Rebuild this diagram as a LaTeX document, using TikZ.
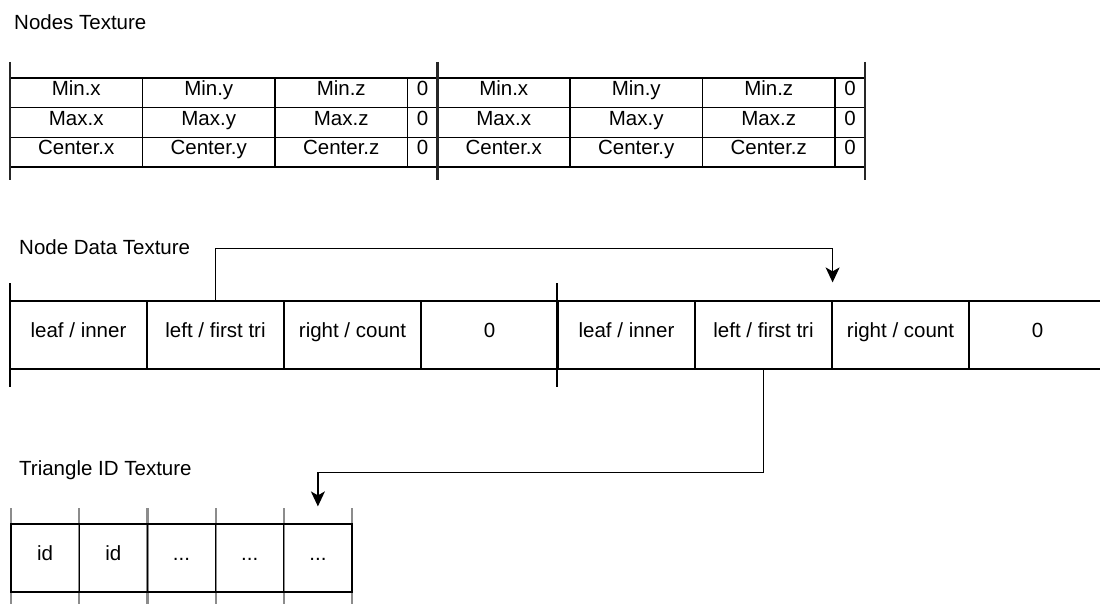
\documentclass[tikz,border=0pt]{standalone}
\usepackage{fontspec}
\setmainfont{Liberation Sans}
\usetikzlibrary{arrows.meta,calc}
\newcommand{\tridots}{...}
\begin{document}
\begin{tikzpicture}[x=1pt,y=-1pt,
 cell/.style={draw=black,line width=1.2pt,inner sep=0pt,font=\fontsize{20.5}{24}\selectfont,text height=0.72em,text depth=0.2em,anchor=center},
 title/.style={anchor=west,inner sep=0pt,font=\fontsize{20.5}{24}\selectfont},
 bar/.style={line width=2.7pt,black!85},
 tick/.style={line width=1.2pt},
 gtick/.style={line width=2.2pt,black!45},
 arr/.style={line width=1.2pt,-{Stealth[length=15pt,width=14pt,inset=4pt]}}]
\clip (0,0) rectangle (1100,604);
\fill[white] (0,0) rectangle (1100,604);

% ---------- Nodes Texture ----------
\node[title] (tn) at (14,22) {Nodes Texture};
\foreach \t/\ox in {a/10,b/437.5}{
  \foreach \r/\yc/\lx/\ly/\lz in {1/92.85/Min.x/Min.y/Min.z,2/122.5/Max.x/Max.y/Max.z,3/152.15/Center.x/Center.y/Center.z}{
    \node[cell,minimum width=132.5pt,minimum height=29.7pt] (\t x\r) at (\ox+66.25,\yc) {\lx};
    \node[cell,minimum width=132.5pt,minimum height=29.7pt] (\t y\r) at (\ox+198.75,\yc) {\ly};
    \node[cell,minimum width=132.5pt,minimum height=29.7pt] (\t z\r) at (\ox+331.25,\yc) {\lz};
    \node[cell,minimum width=30pt,minimum height=29.7pt] (\t w\r) at (\ox+412.5,\yc) {0};
  }
}
\foreach \bx in {10,437.5,865}{
  \draw[bar] (\bx,62) -- (\bx,180);
}

% ---------- Node Data Texture ----------
\node[title] (tnd) at (19,247) {Node Data Texture};
\foreach \i/\cx/\lab in {1/78.5/{leaf / inner},2/215.5/{left / first tri},3/352.5/{right / count},4/489.5/0,
                         5/626.5/{leaf / inner},6/763.5/{left / first tri},7/900.5/{right / count},8/1037.5/0}{
  \node[cell,minimum width=137pt,minimum height=68pt] (nd\i) at (\cx,335) {\lab};
}
\draw[tick] (10,283) -- (10,387);
\draw[tick] (557,283) -- (557,387);

% ---------- Triangle ID Texture ----------
\node[title] (tt) at (19,470) {Triangle ID Texture};
\foreach \k in {0,1,2,3,4,5}{
  \draw[gtick] (11+68.2*\k,508) -- (11+68.2*\k,612);
}
\foreach \i/\cx/\lab in {1/45.1/id,2/113.3/id,3/181.5/\tridots,4/249.7/\tridots,5/317.9/\tridots}{
  \node[cell,minimum width=68.2pt,minimum height=68pt] (t\i) at (\cx,558) {\lab};
}

% ---------- connectors ----------
\coordinate (e1) at ($(nd6.north east)+(0,-18)$);
\draw[arr] (nd2.north) -- ++(0,-52) -| (e1);
\coordinate (e2) at ($(t5.north)+(0,-17)$);
\draw[arr] (nd6.south) -- ++(0,103) -| (e2);
\end{tikzpicture}
\end{document}
